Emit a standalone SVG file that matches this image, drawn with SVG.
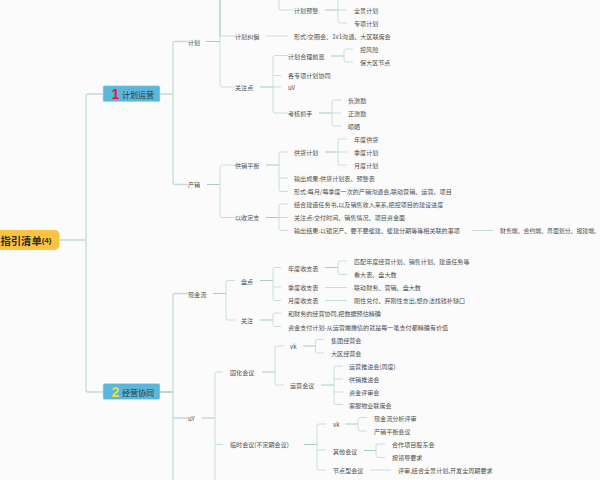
<svg xmlns="http://www.w3.org/2000/svg" width="600" height="480" viewBox="0 0 600 480">
<style>
text{font-family:"Noto Sans CJK SC","Liberation Sans",sans-serif;font-size:6.08px;fill:#505050;dominant-baseline:central}
.c path{fill:none;stroke:#c6e0d9;stroke-width:1}
.c .d{stroke:#a5cdc2}
.c .m{stroke:#c4dcd7;stroke-width:1.3}
.b rect{fill:#5ab7db;stroke:#c5e3ec;stroke-width:.6}
.b text{font-size:8px;fill:#2d3a44}
.b .n{font-family:"Liberation Sans",sans-serif;font-size:14px;font-weight:700}
</style>
<rect width="600" height="480" fill="#fbfbfb"/>
<g class="c" id="connectors">
<path class="m" d="M59 240H86M103 94H88a2 2 0 0 0-2 2V390a2 2 0 0 0 2 2H103"/>
<path class="m" d="M160 94H173M188 41.500H175a2 2 0 0 0-2 2V182.500a2 2 0 0 0 2 2H188"/>
<path class="m" d="M160 392H173M188 293.500H175a2 2 0 0 0-2 2V480M173 418H188"/>
<path class="d" d="M160 392H173"/>
<path d="M206 41.500H220M220 0V85a2 2 0 0 0 2 2H235M220 36H235"/><path class="d" d="M206 41.500H220M220 0V36"/>
<path d="M279 0V8a2 2 0 0 0 2 2H294"/>
<path class="d" d="M325 10H338"/><path d="M338 10H347M338 0V21a2 2 0 0 0 2 2H347"/>
<path d="M266 36H288"/>
<path class="d" d="M260 87H273"/><path d="M288 55.500H275a2 2 0 0 0-2 2V111a2 2 0 0 0 2 2H288M273 75.500H281M273 87H281"/>
<path class="d" d="M331 56H344"/><path d="M353 49H346a2 2 0 0 0-2 2V60a2 2 0 0 0 2 2H353"/>
<path class="d" d="M319 113H332"/><path d="M341 100H334a2 2 0 0 0-2 2V124a2 2 0 0 0 2 2H341M332 113H341"/>
<path class="d" d="M207 184.500H220"/><path d="M235 165H222a2 2 0 0 0-2 2V215.500a2 2 0 0 0 2 2H235"/>
<path class="d" d="M266 165H279"/><path d="M288 152H281a2 2 0 0 0-2 2V189.500a2 2 0 0 0 2 2H288M279 178H288"/>
<path class="d" d="M325 152H338"/><path d="M347 139H340a2 2 0 0 0-2 2V163a2 2 0 0 0 2 2H347M338 152H347"/>
<path class="d" d="M266 217.500H279"/><path d="M288 204H281a2 2 0 0 0-2 2V228.500a2 2 0 0 0 2 2H288M279 217.500H288"/>
<path d="M472 230.500H493"/>
<path class="d" d="M213 293.500H226"/><path d="M235 280.500H228a2 2 0 0 0-2 2V318a2 2 0 0 0 2 2H235"/>
<path class="d" d="M260 280.500H273"/><path d="M281 267.500H275a2 2 0 0 0-2 2V298.500a2 2 0 0 0 2 2H281M273 287H281"/>
<path class="d" d="M325 267.500H338"/><path d="M347 261H340a2 2 0 0 0-2 2V272.500a2 2 0 0 0 2 2H347"/>
<path d="M325 287.500H347M325 300.500H347"/>
<path class="d" d="M260 320H273"/><path d="M281 313H275a2 2 0 0 0-2 2V324.500a2 2 0 0 0 2 2H281"/>
<path class="d" d="M202 418H215"/><path d="M223 372H217a2 2 0 0 0-2 2V480M215 444.500H223"/>
<path class="d" d="M262 372H275"/><path d="M284 346H277a2 2 0 0 0-2 2V383a2 2 0 0 0 2 2H284"/>
<path class="d" d="M303 346H315.500"/><path d="M324 339.500H317.500a2 2 0 0 0-2 2V351a2 2 0 0 0 2 2H324"/>
<path class="d" d="M321 385H334"/><path d="M343 366H336a2 2 0 0 0-2 2V402.500a2 2 0 0 0 2 2H343M334 379H343M334 392H343"/>
<path class="d" d="M304 444.500H317"/><path d="M326 424H319a2 2 0 0 0-2 2V468a2 2 0 0 0 2 2H326M317 450H326"/>
<path class="d" d="M345 424H358"/><path d="M367 417.500H360a2 2 0 0 0-2 2V429a2 2 0 0 0 2 2H367"/>
<path class="d" d="M364 450.500H376"/><path d="M385 444H378a2 2 0 0 0-2 2V455.500a2 2 0 0 0 2 2H385"/>
<path d="M370 470H391"/>
</g>
<g id="root"><rect x="-30" y="230" width="89.500" height="20" rx="5" fill="#fbc33f"/><text x="0.500" y="240" style="font-size:10.300px;font-weight:700;fill:#2b2b2b">指引清单<tspan style="font-size:8px;font-family:'Liberation Sans',sans-serif">(4)</tspan></text></g>
<g id="b1" class="b"><rect x="103" y="85.700" width="57" height="16" rx="1.500"/><text class="n" x="111.500" y="94" style="fill:#e8173a">1</text><text x="122" y="94.500">计划运营</text></g>
<g id="b2" class="b"><rect x="103" y="383.500" width="57" height="16" rx="1.500"/><text class="n" x="111.500" y="392" style="fill:#f0dc45">2</text><text x="122" y="392.500">经营协同</text></g>
<g id="n1"><text x="188" y="42">计划</text></g>
<g id="n2"><text x="235" y="36.500">计划纠偏</text></g>
<g id="n3"><text x="294" y="36.500">形式:交圈会、1v1沟通、大区联席会</text></g>
<g id="n4"><text x="294" y="10">计划预警</text></g>
<g id="n5"><text x="354" y="10">全景计划</text></g>
<g id="n6"><text x="354" y="23">专项计划</text></g>
<g id="n7"><text x="235" y="87.500">关注点</text></g>
<g id="n8"><text x="288" y="56">计划合理前置</text></g>
<g id="n9"><text x="360" y="49.500">控风险</text></g>
<g id="n10"><text x="360" y="62.500">保大区节点</text></g>
<g id="n11"><text x="288" y="75.500">各专项计划协同</text></g>
<g id="n12"><text x="288" y="87.500">uV</text></g>
<g id="n13"><text x="288" y="113">考核抓手</text></g>
<g id="n14"><text x="348" y="100">负激励</text></g>
<g id="n15"><text x="348" y="113">正激励</text></g>
<g id="n16"><text x="348" y="126">晾晒</text></g>
<g id="n17"><text x="188" y="184.500">产销</text></g>
<g id="n18"><text x="235" y="165">供销平衡</text></g>
<g id="n19"><text x="294" y="152.500">供货计划</text></g>
<g id="n20"><text x="354" y="139.500">年度供货</text></g>
<g id="n21"><text x="354" y="152.500">季度计划</text></g>
<g id="n22"><text x="354" y="165.500">月度计划</text></g>
<g id="n23"><text x="294" y="178.500">输出成果:供货计划表、预警表</text></g>
<g id="n24"><text x="294" y="191.500">形式:每月/每季度一次的产销沟通会,联动营销、运营、项目</text></g>
<g id="n25"><text x="235" y="217.500">以收定支</text></g>
<g id="n26"><text x="294" y="204.500">结合建造任务书,以及销售收入来系,把控项目的建设进度</text></g>
<g id="n27"><text x="294" y="217.500">关注点:交付时间、销售情况、项目资金面</text></g>
<g id="n28"><text x="294" y="230.500">输出结果:以锁定产、要不要缓建、缓建分期等等相关联的事项</text></g>
<g id="n29"><text x="500" y="230.500" style="font-size:5.880px">财务端、合约端、界面划分、报建端、</text></g>
<g id="n30"><text x="188" y="294">现金流</text></g>
<g id="n31"><text x="241" y="281">盘点</text></g>
<g id="n32"><text x="288" y="268">年度收支表</text></g>
<g id="n33"><text x="354" y="261">匹配年度经营计划、销售计划、建造任务等</text></g>
<g id="n34"><text x="354" y="274.500">看大表、盘大数</text></g>
<g id="n35"><text x="288" y="287.500">季度收支表</text></g>
<g id="n36"><text x="354" y="287.500">联动财务、营销、盘大数</text></g>
<g id="n37"><text x="288" y="300.500">月度收支表</text></g>
<g id="n38"><text x="354" y="300.500">刚性兑付、弃刚性支出,想办法找钱补缺口</text></g>
<g id="n39"><text x="241" y="320">关注</text></g>
<g id="n40"><text x="288" y="313.500">和财务的经营协同,把数据预估精确</text></g>
<g id="n41"><text x="288" y="327">资金支付计划-从运营端撒债的就是每一笔支付都精确有价值</text></g>
<g id="n42"><text x="188" y="418">uY</text></g>
<g id="n43"><text x="230" y="372.500">固化会议</text></g>
<g id="n44"><text x="290" y="346.500">vk</text></g>
<g id="n45"><text x="331" y="340">集团经营会</text></g>
<g id="n46"><text x="331" y="353">大区经营会</text></g>
<g id="n47"><text x="290" y="385.500">运营会议</text></g>
<g id="n48"><text x="349" y="366">运营推进会(周度)</text></g>
<g id="n49"><text x="349" y="379">供销推进会</text></g>
<g id="n50"><text x="349" y="392">资金评审会</text></g>
<g id="n51"><text x="349" y="405">客服物业联席会</text></g>
<g id="n52"><text x="230" y="444.500">临时会议(不定期会议)</text></g>
<g id="n53"><text x="333" y="424.500">vk</text></g>
<g id="n54"><text x="374" y="418">现金流分析评审</text></g>
<g id="n55"><text x="374" y="431.500">产销平衡会议</text></g>
<g id="n56"><text x="333" y="451">其他会议</text></g>
<g id="n57"><text x="392" y="444.500">合作项目股东会</text></g>
<g id="n58"><text x="392" y="457.500">按领导要求</text></g>
<g id="n59"><text x="333" y="470.500">节点型会议</text></g>
<g id="n60"><text x="398" y="470.500">评审,结合全景计划,开发全周期要求</text></g>
</svg>
